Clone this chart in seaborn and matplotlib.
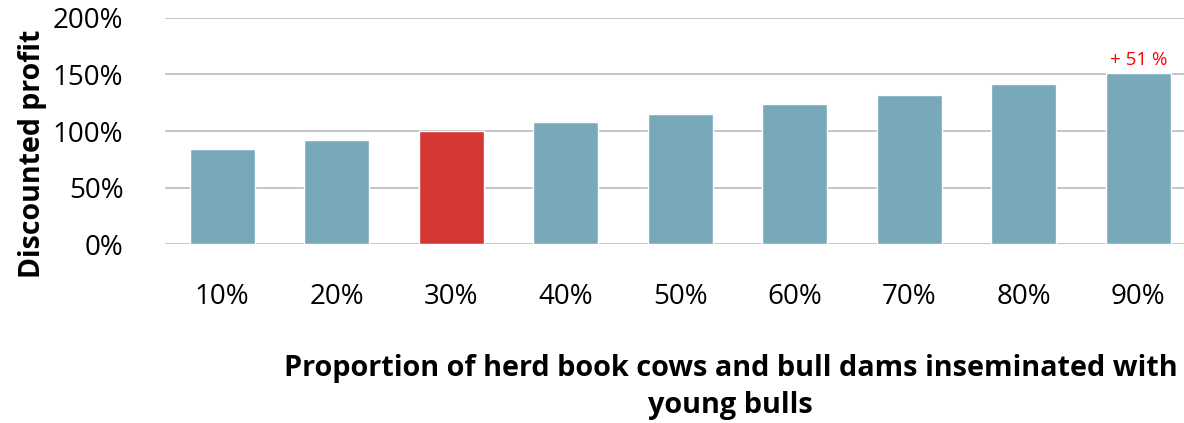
import numpy as np
import pandas as pd
import seaborn as sns
import matplotlib.pyplot as plt
from matplotlib.ticker import PercentFormatter

# data
proportions = ["10%", "20%", "30%", "40%", "50%", "60%", "70%", "80%", "90%"]
profit = [84, 92, 100, 108, 115, 124, 132, 142, 151]
highlight = "30%"

df = pd.DataFrame({"proportion": proportions, "profit": profit})

sns.set_theme(style="white")
plt.rcParams["font.family"] = ["Open Sans", "DejaVu Sans"]
plt.rcParams["text.color"] = "black"
plt.rcParams["axes.labelcolor"] = "black"
plt.rcParams["xtick.color"] = "black"
plt.rcParams["ytick.color"] = "black"

fig = plt.figure(figsize=(11.84, 4.23), dpi=100)
ax = fig.add_axes([165 / 1184, 1 - 244 / 423, 1 - 165 / 1184, (244 - 18) / 423])

palette = {p: ("#D43834" if p == highlight else "#77A9BA") for p in proportions}
sns.barplot(data=df, x="proportion", y="profit", hue="proportion", palette=palette,
            legend=False, width=0.57, saturation=1, ax=ax, zorder=3)

ax.set_ylim(0, 200)
ax.set_xlim(-0.5, 8.4)
ax.set_yticks([0, 50, 100, 150, 200])
ax.yaxis.set_major_formatter(PercentFormatter(decimals=0))
ax.grid(axis="y", color="#BBBBBB", linewidth=1.2, zorder=0)
for s in ax.spines.values():
    s.set_visible(False)

ax.tick_params(axis="y", length=0, pad=30, labelsize=20)
ax.tick_params(axis="x", length=0, pad=28, labelsize=20)

ax.set_ylabel("Discounted profit", fontsize=20.5, fontweight="bold")
ax.yaxis.set_label_coords(-0.116, 0.40)
ax.set_xlabel("Proportion of herd book cows and bull dams inseminated with\nyoung bulls",
              fontsize=20.8, fontweight="bold", labelpad=31, x=0.555, linespacing=1.35)

# gain of the last bar over the highlighted one
gain = profit[-1] - profit[proportions.index(highlight)]
ax.text(len(proportions) - 1, profit[-1] + 4, f"+ {gain} %", color="red",
        ha="center", va="bottom", fontsize=13.5)

fig.savefig("out.png", dpi=100)
